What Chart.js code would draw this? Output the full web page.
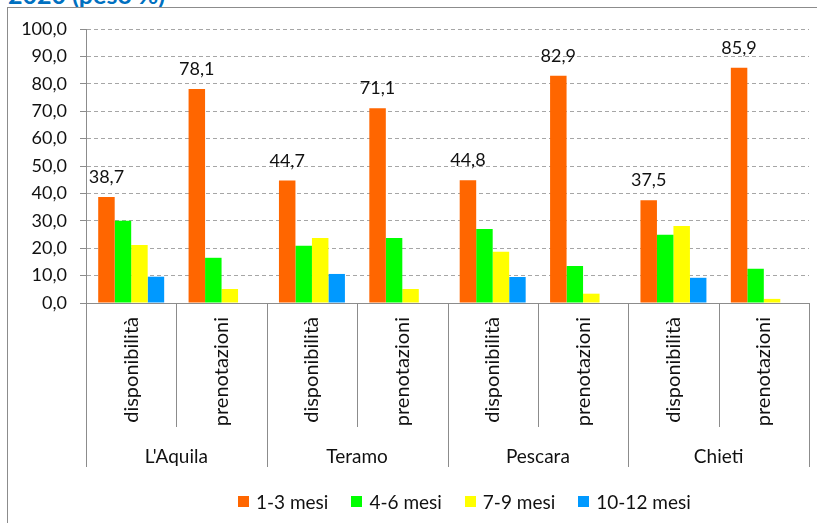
<!DOCTYPE html>
<html>
<head>
<meta charset="utf-8">
<script src="https://cdn.jsdelivr.net/npm/chart.js@4/dist/chart.umd.min.js"></script>
<style>
  html, body { margin: 0; padding: 0; background: #fff; }
  #wrap { position: relative; width: 817px; height: 523px; overflow: hidden; font-family: Lato, "Noto Sans", sans-serif; }
  #frame { position: absolute; left: 7px; top: 7px; right: -2px; bottom: -2px; border-left: 1px solid #8c8c8c; border-top: 1px solid #8c8c8c; }
  #title { position: absolute; left: 8px; top: -21px; font: bold 25px Lato, sans-serif; color: #0070C0; white-space: nowrap; }
  canvas { position: absolute; left: 0; top: 0; }
  #legend { position: absolute; left: 238px; top: 490px; display: flex; gap: 23px; font: 19px Lato, sans-serif; color: #111; align-items: center; }
  #legend .it { display: flex; align-items: center; }
  #legend .sw { width: 11px; height: 11px; margin-right: 7px; }
</style>
</head>
<body>
<div id="wrap">
  <div id="title">2020 (peso %)</div>
  <div id="frame"></div>
  <canvas id="c" width="817" height="523"></canvas>
  <div id="legend"></div>
</div>
<script>
const provinces = ["L'Aquila", "Teramo", "Pescara", "Chieti"];
const subCategories = ["disponibilità", "prenotazioni"];
const categories = ["disponibilità", "prenotazioni", "disponibilità", "prenotazioni", "disponibilità", "prenotazioni", "disponibilità", "prenotazioni"];
const seriesNames = ["1-3 mesi", "4-6 mesi", "7-9 mesi", "10-12 mesi"];
const seriesColors = ["#FF6600", "#00FF00", "#FFFF00", "#0099FF"];
const mesi1_3 = [38.7, 78.1, 44.7, 71.1, 44.8, 82.9, 37.5, 85.9];
const mesi4_6 = [30.0, 16.5, 20.9, 23.7, 27.0, 13.5, 24.9, 12.5];
const mesi7_9 = [21.2, 5.1, 23.7, 5.1, 18.7, 3.4, 28.1, 1.5];
const mesi10_12 = [9.6, null, 10.6, null, 9.5, null, 9.2, null];
const yTicks = [0, 10, 20, 30, 40, 50, 60, 70, 80, 90, 100];

const seriesValues = [mesi1_3, mesi4_6, mesi7_9, mesi10_12];
const fmt = v => v.toFixed(1).replace('.', ',');
const FONT = "Lato, 'Noto Sans', sans-serif";

// legend (HTML)
const lg = document.getElementById('legend');
seriesNames.forEach((n, i) => {
  const it = document.createElement('div'); it.className = 'it';
  const sw = document.createElement('span'); sw.className = 'sw'; sw.style.background = seriesColors[i];
  const tx = document.createElement('span'); tx.textContent = n;
  it.appendChild(sw); it.appendChild(tx); lg.appendChild(it);
});

const dataLabels = {
  id: 'dataLabels',
  afterDatasetsDraw(chart) {
    const ctx = chart.ctx;
    const meta = chart.getDatasetMeta(0);
    ctx.save();
    ctx.font = "18px " + FONT;
    ctx.fillStyle = '#111';
    ctx.textAlign = 'center';
    ctx.textBaseline = 'alphabetic';
    meta.data.forEach((bar, i) => {
      ctx.fillText(fmt(mesi1_3[i]), bar.x, bar.y - 14);
    });
    ctx.restore();
  }
};

const separators = {
  id: 'separators',
  afterDraw(chart) {
    const x = chart.scales.x;
    const ctx = chart.ctx;
    const top = chart.chartArea.bottom;
    ctx.save();
    ctx.strokeStyle = '#8c8c8c';
    ctx.lineWidth = 1;
    for (let i = 0; i <= categories.length; i++) {
      let px;
      if (i < categories.length) px = x.getPixelForValue(i) - x.width / categories.length / 2;
      else px = x.getPixelForValue(i - 1) + x.width / categories.length / 2;
      px = Math.round(px) + 0.5;
      const len = (i % 2 === 0) ? 164 : 124;
      ctx.beginPath();
      ctx.moveTo(px, top);
      ctx.lineTo(px, top + len);
      ctx.stroke();
    }
    ctx.restore();
  }
};

new Chart(document.getElementById('c'), {
  type: 'bar',
  data: {
    labels: categories,
    datasets: seriesNames.map((n, i) => ({
      label: n,
      data: seriesValues[i],
      backgroundColor: seriesColors[i],
      borderWidth: 0,
      categoryPercentage: 0.73,
      barPercentage: 1.0
    }))
  },
  options: {
    responsive: false,
    animation: false,
    devicePixelRatio: 1,
    layout: { padding: { top: 29, right: 8, left: 0, bottom: 30 } },
    plugins: { legend: { display: false }, tooltip: { enabled: false } },
    scales: {
      y: {
        min: 0, max: 100,
        afterFit: s => { s.width = 86; },
        afterBuildTicks: s => { s.ticks = yTicks.map(v => ({ value: v })); },
        ticks: { callback: v => fmt(v), font: { size: 18, family: FONT }, color: '#111', padding: 13 },
        grid: { color: '#a6a6a6', tickLength: 6, tickColor: '#8c8c8c', tickBorderDash: [], lineWidth: 1 },
        border: { display: true, color: '#8c8c8c', dash: [4, 3] }
      },
      x: {
        weight: 0,
        afterFit: s => { s.height = 130; },
        ticks: { minRotation: 90, maxRotation: 90, autoSkip: false, font: { size: 20, family: FONT }, color: '#111', padding: 14 },
        grid: { display: false, drawTicks: false },
        border: { display: true, color: '#8c8c8c' }
      },
      x2: {
        type: 'category',
        position: 'bottom',
        weight: 1,
        labels: provinces,
        afterFit: s => { s.height = 60; },
        ticks: { font: { size: 19, family: FONT }, color: '#111', padding: 12, autoSkip: false, maxRotation: 0 },
        grid: { display: false, drawTicks: false },
        border: { display: false }
      }
    }
  },
  plugins: [dataLabels, separators]
});
</script>
</body>
</html>
